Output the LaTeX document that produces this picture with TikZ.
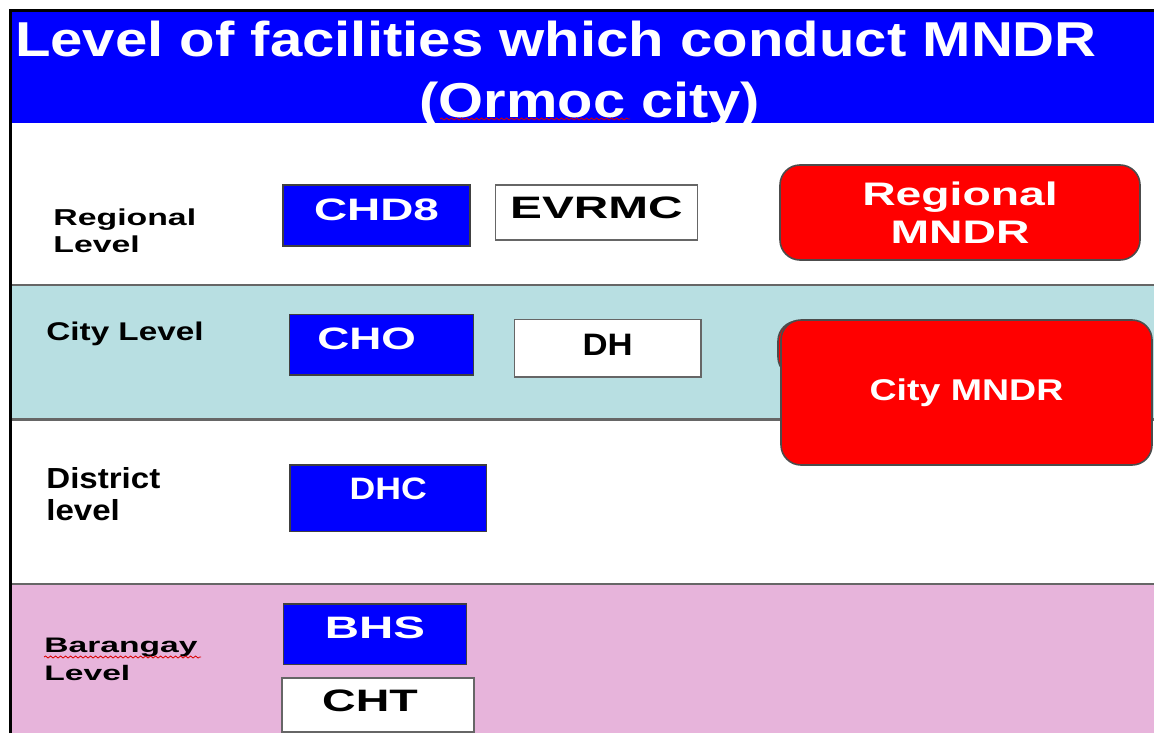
\documentclass[tikz,border=0pt]{standalone}
\usepackage{fontspec}
\setmainfont{Liberation Sans}
\usetikzlibrary{positioning, decorations.pathmorphing}
\definecolor{hdblue}{RGB}{0,0,255}
\definecolor{mndrred}{RGB}{255,0,0}
\definecolor{cityband}{RGB}{184,223,226}
\definecolor{brgyband}{RGB}{231,180,219}
\newcommand{\wx}[2]{\scalebox{#1}[1]{#2}}
\tikzset{
  ttl/.style={text=white, inner sep=0pt, text height=17.5pt, text depth=0pt,
              font=\bfseries\fontsize{24.5pt}{28pt}\selectfont},
  facil/.style={line width=0.8pt, inner sep=0pt, text height=11.1pt,
                font=\bfseries\fontsize{15.5pt}{18pt}\selectfont},
  blubox/.style={facil, draw=black!75, fill=hdblue, text=white},
  whtbox/.style={facil, draw=black!60, fill=white, text=black},
  mndr/.style={draw=black!70, fill=mndrred, rounded corners=10pt, text=white,
               align=center, line width=0.8pt, inner sep=0pt},
  lvl/.style={anchor=north west, inner sep=0pt, align=left, text=black},
  sep/.style={draw=black!60, line width=1.2pt},
  squig/.style={draw=red!85!black, line width=0.4pt, decorate,
                decoration={snake, amplitude=0.5pt, segment length=2.5pt}},
}
\begin{document}
\begin{tikzpicture}[x=0.5pt, y=-0.5pt]
\useasboundingbox (0,0) rectangle (1154,733);
\fill[white] (0,0) rectangle (1154,733);

% bands
\fill[hdblue] (10.5,10.5) rectangle (1154,123);
\fill[cityband] (10.5,285) rectangle (1154,419.5);
\fill[brgyband] (10.5,584) rectangle (1154,733);
\draw[sep] (10.5,285) -- (1154,285);
\draw[sep] (10.5,419.5) -- (1154,419.5);
\draw[sep] (10.5,584) -- (1154,584);
\draw[black, line width=1.5pt] (10.5,733) -- (10.5,10.5) -- (1154,10.5);

% title
\node[ttl] (ttl1) at (556,39.2) {\wx{1.186}{Level of facilities which conduct MNDR}};
\node[ttl] (ttl2) at (590,100) {\wx{1.18}{(Ormoc city)}};
\draw[squig] (440,119) -- (630,119);

% level labels
\node[lvl, font=\bfseries\fontsize{11.5pt}{13.5pt}\selectfont] (lreg) at (53,208)
  {\wx{1.47}{Regional}\\\wx{1.47}{Level}};
\node[lvl, font=\bfseries\fontsize{12.8pt}{15pt}\selectfont] (lcity) at (46,322)
  {\wx{1.3}{City Level}};
\node[lvl, font=\bfseries\fontsize{14.5pt}{16pt}\selectfont] (ldist) at (46,467)
  {\wx{1.14}{District}\\\wx{1.14}{level}};
\node[lvl, font=\bfseries\fontsize{10.5pt}{13.8pt}\selectfont] (lbrgy) at (44,638)
  {\wx{1.6}{Barangay}\\\wx{1.6}{Level}};
\draw[squig] (44,657) -- (201,657);

% facilities
\node[blubox, minimum width=93.5pt, minimum height=30.5pt, text depth=6.6pt] (chd) at (376.5,215.5) {\wx{1.48}{CHD8}};
\node[whtbox, minimum width=101pt, minimum height=27.5pt, text depth=5pt] (evrmc) at (596.4,212.5) {\wx{1.54}{EVRMC}};
\node[blubox, minimum width=92pt, minimum height=30.3pt, text depth=6.7pt] (cho) at (381.6,344.7) {\wx{1.43}{CHO}\hspace*{15pt}};
\node[whtbox, minimum width=93.3pt, minimum height=28.7pt, text depth=4pt] (dh) at (607.7,348) {\wx{1.12}{DH}};
\node[blubox, minimum width=98.3pt, minimum height=33.3pt, text depth=9.6pt] (dhc) at (388.3,498.3) {\wx{1.15}{DHC}};
\node[blubox, minimum width=91.5pt, minimum height=30.2pt, text depth=6.7pt] (bhs) at (375,634.2) {\wx{1.53}{BHS}};
\node[whtbox, minimum width=95.8pt, minimum height=27pt, text depth=4.2pt] (cht) at (378,704.7) {\wx{1.5}{CHT}\hspace*{8pt}};

% MNDR boxes
\node[mndr, minimum width=180pt, minimum height=47.5pt,
      font=\bfseries\fontsize{16.3pt}{18.7pt}\selectfont] (regm) at (960,212.5)
  {\wx{1.42}{Regional}\\\wx{1.42}{MNDR}};
\node[mndr, minimum width=161pt, minimum height=28pt] (cityback) at (939,349) {};
\node[mndr, minimum width=185.5pt, minimum height=72.5pt,
      font=\bfseries\fontsize{15pt}{18pt}\selectfont] (citym) at (966.5,392.5)
  {\wx{1.25}{City MNDR}};
\end{tikzpicture}
\end{document}
